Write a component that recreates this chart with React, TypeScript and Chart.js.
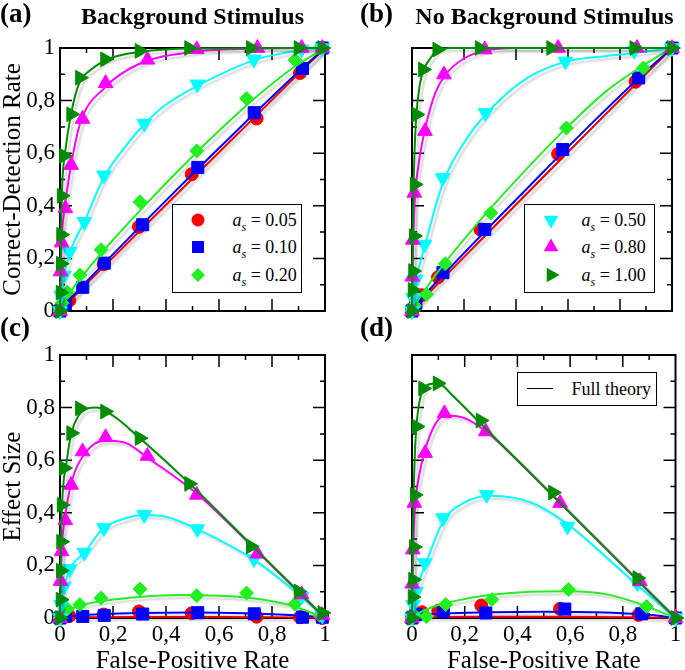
import React, { useEffect, useRef } from 'react';
import { Chart, registerables } from 'chart.js';
Chart.register(...registerables);

// ---------- tick labels ----------
const TICK_VALUES = [0, 0.2, 0.4, 0.6, 0.8, 1];
const TICK_LABELS = ['0', '0,2', '0,4', '0,6', '0,8', '1'];
const FRAME_TICKS = [0.1, 0.2, 0.3, 0.4, 0.5, 0.6, 0.7, 0.8, 0.9];

// ---------- colours ----------
const C_RED = '#ff0000';
const C_BLUE = '#0000ff';
const C_GREEN = '#22ee22';
const C_CYAN = '#00ffff';
const C_MAG = '#ff00ff';
const C_DG = '#008b00';

// ---------- panel (a): ROC, background stimulus (markers) ----------
const fprA_red = [0, 0.01, 0.035, 0.165, 0.298, 0.497, 0.742, 0.906, 0.99];
const tprA_red = [0, 0.015, 0.04, 0.178, 0.32, 0.52, 0.732, 0.905, 1.0];
const fprA_blue = [0, 0.02, 0.086, 0.167, 0.312, 0.52, 0.733, 0.915, 0.99];
const tprA_blue = [0, 0.027, 0.09, 0.182, 0.328, 0.546, 0.754, 0.922, 1.0];
const fprA_green = [0, 0.008, 0.028, 0.075, 0.155, 0.302, 0.516, 0.704, 0.887, 0.98];
const tprA_green = [0, 0.03, 0.071, 0.137, 0.233, 0.415, 0.609, 0.808, 0.954, 1.0];
const fprA_cyan = [0, 0.004, 0.015, 0.036, 0.092, 0.166, 0.318, 0.518, 0.732, 0.912, 0.99];
const tprA_cyan = [0, 0.06, 0.135, 0.225, 0.339, 0.516, 0.713, 0.862, 0.957, 0.995, 1.0];
const fprA_mag = [0, 0.002, 0.006, 0.02, 0.042, 0.085, 0.172, 0.33, 0.516, 0.745, 0.912, 0.99];
const tprA_mag = [0, 0.15, 0.26, 0.39, 0.555, 0.73, 0.866, 0.955, 0.995, 1, 1, 1];
const fprA_dg = [0, 0.002, 0.003, 0.004, 0.006, 0.015, 0.042, 0.075, 0.17, 0.3, 0.487, 0.72, 0.9, 0.99];
const tprA_dg = [0, 0.07, 0.18, 0.29, 0.438, 0.59, 0.748, 0.887, 0.957, 0.989, 1, 1, 1, 1];

// panel (a) theory curves
const thA_red_x = [0, 0.1, 0.3, 0.5, 0.7, 0.9, 1];
const thA_red_y = [0, 0.103, 0.304, 0.504, 0.703, 0.902, 1];
const thA_blue_x = [0, 0.05, 0.15, 0.3, 0.5, 0.7, 0.9, 1];
const thA_blue_y = [0, 0.058, 0.164, 0.319, 0.521, 0.718, 0.91, 1];
const thA_green_x = [0, 0.02, 0.05, 0.1, 0.2, 0.3, 0.45, 0.6, 0.75, 0.88, 1];
const thA_green_y = [0, 0.042, 0.088, 0.153, 0.27, 0.38, 0.537, 0.685, 0.822, 0.925, 1];
const thA_cyan_x = [0, 0.005, 0.015, 0.038, 0.092, 0.164, 0.25, 0.32, 0.4, 0.516, 0.736, 0.9, 1];
const thA_cyan_y = [0, 0.06, 0.13, 0.225, 0.34, 0.505, 0.63, 0.712, 0.785, 0.855, 0.955, 0.99, 1];
const thA_mag_x = [0, 0.002, 0.006, 0.019, 0.042, 0.075, 0.17, 0.3, 0.5, 0.75, 1];
const thA_mag_y = [0, 0.1, 0.26, 0.4, 0.555, 0.71, 0.85, 0.94, 0.985, 0.998, 1];
const thA_dg_x = [0, 0.002, 0.004, 0.008, 0.019, 0.042, 0.07, 0.12, 0.2, 0.3, 0.5, 1];
const thA_dg_y = [0, 0.12, 0.3, 0.47, 0.6, 0.75, 0.86, 0.92, 0.965, 0.985, 0.998, 1];

// ---------- panel (c): effect size, background stimulus (markers, x = fprA_*) ----------
const effC_red = [0, 0.005, 0.008, 0.013, 0.025, 0.018, 0.005, 0.003, 0.0];
const effC_blue = [0, 0.007, 0.006, 0.01, 0.015, 0.02, 0.016, 0.003, 0.003];
const effC_green = [0, 0.02, 0.034, 0.051, 0.076, 0.11, 0.085, 0.095, 0.053, 0.01];
const effC_cyan = [0, 0.05, 0.12, 0.186, 0.249, 0.342, 0.392, 0.338, 0.224, 0.082, 0.01];
const effC_mag = [0, 0.14, 0.253, 0.371, 0.506, 0.633, 0.687, 0.616, 0.468, 0.244, 0.089, 0.01];
const effC_dg = [0, 0.07, 0.18, 0.29, 0.43, 0.57, 0.703, 0.797, 0.785, 0.684, 0.51, 0.272, 0.101, 0.019];

// panel (c) theory curves
const thC_red_x = [0, 0.1, 0.3, 0.5, 0.7, 0.9, 1];
const thC_red_y = [0, 0.003, 0.004, 0.004, 0.003, 0.002, 0];
const thC_blue_x = [0, 0.05, 0.15, 0.3, 0.5, 0.7, 0.9, 1];
const thC_blue_y = [0, 0.008, 0.014, 0.019, 0.021, 0.018, 0.01, 0];
const thC_green_x = [0, 0.02, 0.05, 0.1, 0.2, 0.3, 0.45, 0.6, 0.75, 0.88, 1];
const thC_green_y = [0, 0.022, 0.038, 0.053, 0.07, 0.08, 0.087, 0.085, 0.072, 0.045, 0];
const thC_cyan_x = [0, 0.005, 0.015, 0.038, 0.092, 0.164, 0.25, 0.32, 0.4, 0.516, 0.736, 0.9, 1];
const thC_cyan_y = [0, 0.055, 0.115, 0.187, 0.248, 0.341, 0.38, 0.392, 0.385, 0.339, 0.219, 0.09, 0];
const thC_mag_x = [0, 0.002, 0.006, 0.019, 0.042, 0.09, 0.17, 0.25, 0.33, 0.52, 0.75, 0.9, 1];
const thC_mag_y = [0, 0.1, 0.25, 0.38, 0.51, 0.62, 0.675, 0.665, 0.61, 0.47, 0.248, 0.1, 0];
const thC_dg_x = [0, 0.002, 0.005, 0.012, 0.023, 0.042, 0.07, 0.1, 0.14, 0.2, 0.3, 0.49, 0.72, 0.9, 1];
const thC_dg_y = [0, 0.15, 0.35, 0.5, 0.58, 0.7, 0.77, 0.795, 0.8, 0.77, 0.685, 0.51, 0.28, 0.1, 0];

// ---------- panel (b): ROC, no background stimulus (markers) ----------
const fprB_red = [0, 0.01, 0.038, 0.1, 0.263, 0.562, 0.86, 1.0];
const tprB_red = [0, 0.018, 0.06, 0.128, 0.31, 0.597, 0.872, 1.0];
const fprB_blue = [0, 0.015, 0.119, 0.28, 0.58, 0.872, 1.0];
const tprB_blue = [0, 0.03, 0.146, 0.31, 0.614, 0.886, 1.0];
const fprB_green = [0, 0.01, 0.055, 0.128, 0.303, 0.594, 0.89, 1.0];
const tprB_green = [0, 0.02, 0.063, 0.18, 0.373, 0.696, 0.924, 1.0];
const fprB_cyan = [0, 0.004, 0.015, 0.048, 0.118, 0.283, 0.59, 0.855, 1.0];
const tprB_cyan = [0, 0.05, 0.12, 0.253, 0.506, 0.753, 0.949, 0.99, 1.0];
const fprB_mag = [0, 0.001, 0.003, 0.009, 0.05, 0.123, 0.28, 0.562, 0.865, 1.0];
const tprB_mag = [0, 0.13, 0.27, 0.449, 0.684, 0.899, 0.994, 1.0, 1.0, 1.0];
const fprB_dg = [0, 0.002, 0.004, 0.007, 0.01, 0.017, 0.042, 0.097, 0.26, 0.535, 0.855, 1.0];
const tprB_dg = [0, 0.08, 0.152, 0.285, 0.481, 0.747, 0.918, 0.994, 1, 1, 1, 1];

// panel (b) theory curves
const thB_red_x = [0, 0.1, 0.3, 0.5, 0.7, 0.9, 1];
const thB_red_y = [0, 0.104, 0.305, 0.505, 0.704, 0.902, 1];
const thB_blue_x = [0, 0.05, 0.15, 0.3, 0.5, 0.7, 0.9, 1];
const thB_blue_y = [0, 0.062, 0.168, 0.322, 0.524, 0.722, 0.912, 1];
const thB_green_x = [0, 0.02, 0.06, 0.12, 0.2, 0.3, 0.45, 0.6, 0.75, 0.88, 1];
const thB_green_y = [0, 0.035, 0.095, 0.175, 0.272, 0.388, 0.55, 0.702, 0.838, 0.928, 1];
const thB_cyan_x = [0, 0.005, 0.015, 0.05, 0.12, 0.2, 0.3, 0.45, 0.6, 0.75, 0.85, 1];
const thB_cyan_y = [0, 0.055, 0.115, 0.25, 0.49, 0.64, 0.765, 0.89, 0.95, 0.97, 0.98, 1];
const thB_mag_x = [0, 0.002, 0.005, 0.01, 0.025, 0.05, 0.09, 0.13, 0.2, 0.28, 0.4, 0.56, 0.75, 0.86, 1];
const thB_mag_y = [0, 0.122, 0.265, 0.41, 0.555, 0.69, 0.83, 0.9, 0.96, 0.99, 1, 1, 1, 1, 1];
const thB_dg_x = [0, 0.002, 0.005, 0.01, 0.016, 0.03, 0.044, 0.07, 0.1, 0.15, 0.258, 0.4, 0.535, 0.7, 0.853, 1];
const thB_dg_y = [0, 0.202, 0.425, 0.61, 0.736, 0.86, 0.914, 0.96, 0.993, 1, 1, 1, 1, 1, 1, 1];

// ---------- panel (d): effect size, no background stimulus (markers, x = fprB_*) ----------
const effD_red = [0, 0.008, 0.022, 0.028, 0.047, 0.035, 0.012, 0];
const effD_blue = [0, 0.013, 0.025, 0.019, 0.034, 0.016, 0];
const effD_green = [0, 0.01, 0.005, 0.051, 0.07, 0.108, 0.044, 0];
const effD_cyan = [0, 0.05, 0.1, 0.209, 0.38, 0.468, 0.348, 0.133, 0];
const effD_mag = [0, 0.13, 0.26, 0.437, 0.627, 0.778, 0.709, 0.437, 0.139, 0];
const effD_dg = [0, 0.08, 0.146, 0.27, 0.468, 0.728, 0.873, 0.892, 0.751, 0.477, 0.152, 0];

// panel (d) theory curves
const thD_red_x = [0, 0.1, 0.3, 0.5, 0.7, 0.9, 1];
const thD_red_y = [0, 0.004, 0.005, 0.005, 0.004, 0.002, 0];
const thD_blue_x = [0, 0.05, 0.15, 0.3, 0.5, 0.7, 0.9, 1];
const thD_blue_y = [0, 0.012, 0.018, 0.022, 0.024, 0.022, 0.012, 0];
const thD_green_x = [0, 0.02, 0.06, 0.12, 0.2, 0.3, 0.45, 0.6, 0.75, 0.88, 1];
const thD_green_y = [0, 0.015, 0.035, 0.055, 0.072, 0.088, 0.1, 0.102, 0.088, 0.048, 0];
const thD_cyan_x = [0, 0.005, 0.015, 0.05, 0.12, 0.2, 0.3, 0.45, 0.6, 0.75, 0.85, 1];
const thD_cyan_y = [0, 0.05, 0.1, 0.2, 0.37, 0.44, 0.465, 0.44, 0.35, 0.22, 0.13, 0];
const thD_mag_x = [0, 0.002, 0.005, 0.01, 0.025, 0.05, 0.09, 0.13, 0.2, 0.28, 0.4, 0.56, 0.75, 0.86, 1];
const thD_mag_y = [0, 0.12, 0.26, 0.4, 0.53, 0.64, 0.74, 0.77, 0.76, 0.71, 0.6, 0.44, 0.25, 0.14, 0];
const thD_dg_x = [0, 0.002, 0.005, 0.01, 0.016, 0.03, 0.044, 0.07, 0.1, 0.15, 0.258, 0.4, 0.535, 0.7, 0.853, 1];
const thD_dg_y = [0, 0.2, 0.42, 0.6, 0.72, 0.83, 0.87, 0.89, 0.893, 0.85, 0.742, 0.6, 0.465, 0.3, 0.147, 0];

// ---------- legend entries ----------
const LEGEND_LEFT = ['0.05', '0.10', '0.20'];
const LEGEND_RIGHT = ['0.50', '0.80', '1.00'];

// ---------- marker styles ----------
const MK = {
  red: { color: C_RED, style: 'circle', rot: 0, r: 6.5 },
  blue: { color: C_BLUE, style: 'rect', rot: 0, r: 8.5 },
  green: { color: C_GREEN, style: 'rectRot', rot: 0, r: 7 },
  cyan: { color: C_CYAN, style: 'triangle', rot: 180, r: 8.5 },
  mag: { color: C_MAG, style: 'triangle', rot: 0, r: 8.5 },
  dg: { color: C_DG, style: 'triangle', rot: 90, r: 8.5 },
};

const pts = (xs: number[], ys: number[]) => xs.map((x, i) => ({ x, y: ys[i] }));

type S = { mk: any; mx: number[]; my: number[]; cx: number[]; cy: number[] };

function buildDatasets(series: S[]) {
  const ds: any[] = [];
  series.forEach((s) => {
    ds.push({
      data: pts(s.cx, s.cy),
      isCurve: true,
      showLine: true,
      borderColor: s.mk.color,
      borderWidth: 2,
      pointRadius: 0,
      cubicInterpolationMode: 'monotone',
      fill: false,
      clip: false,
    });
    ds.push({
      data: pts(s.mx, s.my),
      showLine: false,
      pointStyle: s.mk.style,
      pointRotation: s.mk.rot,
      pointRadius: s.mk.r,
      pointBackgroundColor: s.mk.color,
      pointBorderColor: s.mk.color,
      pointBorderWidth: 1,
      clip: false,
    });
  });
  return ds.reverse(); // first dataset drawn on top in Chart.js
}

const framePlugin = {
  id: 'frame',
  beforeDatasetsDraw(chart: any) {
    const { ctx, chartArea } = chart;
    const { left, right, top, bottom } = chartArea;
    const xs = chart.scales.x;
    const ys = chart.scales.y;
    ctx.save();
    ctx.strokeStyle = '#000';
    ctx.lineWidth = 1.5;
    FRAME_TICKS.forEach((v, i) => {
      const len = i % 2 === 1 ? 12 : 5;
      const px = xs.getPixelForValue(v);
      const py = ys.getPixelForValue(v);
      ctx.beginPath();
      ctx.moveTo(px, bottom);
      ctx.lineTo(px, bottom - len);
      ctx.moveTo(px, top);
      ctx.lineTo(px, top + len);
      ctx.moveTo(left, py);
      ctx.lineTo(left + len, py);
      ctx.moveTo(right, py);
      ctx.lineTo(right - len, py);
      ctx.stroke();
    });
    ctx.lineWidth = 2;
    ctx.strokeRect(left, top, right - left, bottom - top);
    ctx.restore();
  },
};

const shadowPlugin = {
  id: 'lineShadow',
  beforeDatasetDraw(chart: any, args: any) {
    const ds = chart.data.datasets[args.index];
    if (ds && ds.isCurve) {
      const c = chart.ctx;
      c.save();
      c.shadowColor = 'rgba(0,0,0,0.18)';
      c.shadowOffsetX = 3;
      c.shadowOffsetY = 3;
      c.shadowBlur = 2;
    }
  },
  afterDatasetDraw(chart: any, args: any) {
    const ds = chart.data.datasets[args.index];
    if (ds && ds.isCurve) chart.ctx.restore();
  },
};

const FONT = '"Liberation Serif", "Times New Roman", serif';

type PanelProps = {
  left: number;
  top: number;
  width: number;
  height: number;
  area: { l: number; t: number; r: number; b: number };
  series: S[];
  xLabels: boolean;
  yLabels: boolean;
  xTitle?: string;
  yTitle?: string;
};

function Panel(p: PanelProps) {
  const ref = useRef<HTMLCanvasElement | null>(null);
  useEffect(() => {
    if (!ref.current) return;
    const tickFont = { family: FONT, size: 23 };
    const titleFont = { family: FONT, size: 25, lineHeight: 1 };
    const labelCb = (_v: any, i: number) => TICK_LABELS[i];
    const chart = new Chart(ref.current, {
      type: 'line',
      data: { datasets: buildDatasets(p.series) },
      options: {
        animation: false,
        responsive: false,
        events: [],
        layout: { padding: { left: 0, top: p.area.t, right: p.width - p.area.r, bottom: 0 } },
        plugins: { legend: { display: false }, tooltip: { enabled: false } },
        scales: {
          x: {
            type: 'linear',
            min: 0,
            max: 1,
            afterBuildTicks: (s: any) => {
              s.ticks = TICK_VALUES.map((v) => ({ value: v }));
            },
            grid: { display: false, drawTicks: false },
            border: { display: false },
            ticks: { display: p.xLabels, font: tickFont, color: '#000', padding: 3, callback: labelCb, maxRotation: 0, autoSkip: false },
            title: { display: !!p.xTitle, text: p.xTitle || '', font: titleFont, color: '#000', padding: { top: 0, bottom: 6 } },
            afterFit: (s: any) => {
              s.height = p.height - p.area.b;
            },
          },
          y: {
            type: 'linear',
            min: 0,
            max: 1,
            afterBuildTicks: (s: any) => {
              s.ticks = TICK_VALUES.map((v) => ({ value: v }));
            },
            grid: { display: false, drawTicks: false },
            border: { display: false },
            ticks: { display: p.yLabels, font: tickFont, color: '#000', padding: 5, callback: labelCb, autoSkip: false },
            title: { display: !!p.yTitle, text: p.yTitle || '', font: titleFont, color: '#000', padding: { top: 1, bottom: 0 } },
            afterFit: (s: any) => {
              s.width = p.area.l;
            },
          },
        },
      } as any,
      plugins: [framePlugin, shadowPlugin],
    });
    return () => chart.destroy();
  }, []);
  return (
    <canvas
      ref={ref}
      width={p.width}
      height={p.height}
      style={{ position: 'absolute', left: p.left, top: p.top, width: p.width, height: p.height }}
    />
  );
}

function Marker({ mk, size = 22 }: { mk: any; size?: number }) {
  const c = size / 2;
  const r = mk.r;
  let shape: any = null;
  if (mk.style === 'circle') shape = <circle cx={c} cy={c} r={r} fill={mk.color} />;
  else if (mk.style === 'rect') {
    const h = r * Math.SQRT1_2;
    shape = <rect x={c - h} y={c - h} width={2 * h} height={2 * h} fill={mk.color} />;
  } else if (mk.style === 'rectRot') {
    shape = <polygon points={`${c - r},${c} ${c},${c - r} ${c + r},${c} ${c},${c + r}`} fill={mk.color} />;
  } else {
    const a0 = (mk.rot * Math.PI) / 180;
    const ptsS = [0, 1, 2]
      .map((k) => {
        const a = a0 + (k * 2 * Math.PI) / 3;
        return `${c + Math.sin(a) * r},${c - Math.cos(a) * r}`;
      })
      .join(' ');
    shape = <polygon points={ptsS} fill={mk.color} />;
  }
  return (
    <svg width={size} height={size} style={{ position: 'absolute', left: -c, top: -c, overflow: 'visible' }}>
      {shape}
    </svg>
  );
}

function AsLabel({ v }: { v: string }) {
  return (
    <span>
      <i>a</i>
      <span style={{ fontSize: 12, position: 'relative', top: 5 }}>
        <i>s</i>
      </span>{' '}
      = {v}
    </span>
  );
}

function LegendBox({ left, top, width, height, items, markerX, textX, rows }: any) {
  return (
    <div
      style={{
        position: 'absolute',
        left,
        top,
        width,
        height,
        boxSizing: 'border-box',
        border: '1.5px solid #000',
        background: '#fff',
      }}
    >
      {items.map((it: any, i: number) => (
        <React.Fragment key={i}>
          <div style={{ position: 'absolute', left: markerX - 1.5, top: rows[i] - 1.5, width: 0, height: 0 }}>
            <Marker mk={it.mk} />
          </div>
          <div
            style={{
              position: 'absolute',
              left: textX - 1.5,
              top: rows[i] - 1.5 - 12,
              height: 24,
              lineHeight: '24px',
              fontSize: 18,
              whiteSpace: 'nowrap',
            }}
          >
            <AsLabel v={it.v} />
          </div>
        </React.Fragment>
      ))}
    </div>
  );
}

export default function App() {
  const seriesA: S[] = [
    { mk: MK.red, mx: fprA_red, my: tprA_red, cx: thA_red_x, cy: thA_red_y },
    { mk: MK.blue, mx: fprA_blue, my: tprA_blue, cx: thA_blue_x, cy: thA_blue_y },
    { mk: MK.green, mx: fprA_green, my: tprA_green, cx: thA_green_x, cy: thA_green_y },
    { mk: MK.cyan, mx: fprA_cyan, my: tprA_cyan, cx: thA_cyan_x, cy: thA_cyan_y },
    { mk: MK.mag, mx: fprA_mag, my: tprA_mag, cx: thA_mag_x, cy: thA_mag_y },
    { mk: MK.dg, mx: fprA_dg, my: tprA_dg, cx: thA_dg_x, cy: thA_dg_y },
  ];
  const seriesC: S[] = [
    { mk: MK.red, mx: fprA_red, my: effC_red, cx: thC_red_x, cy: thC_red_y },
    { mk: MK.blue, mx: fprA_blue, my: effC_blue, cx: thC_blue_x, cy: thC_blue_y },
    { mk: MK.green, mx: fprA_green, my: effC_green, cx: thC_green_x, cy: thC_green_y },
    { mk: MK.cyan, mx: fprA_cyan, my: effC_cyan, cx: thC_cyan_x, cy: thC_cyan_y },
    { mk: MK.mag, mx: fprA_mag, my: effC_mag, cx: thC_mag_x, cy: thC_mag_y },
    { mk: MK.dg, mx: fprA_dg, my: effC_dg, cx: thC_dg_x, cy: thC_dg_y },
  ];
  const seriesB: S[] = [
    { mk: MK.red, mx: fprB_red, my: tprB_red, cx: thB_red_x, cy: thB_red_y },
    { mk: MK.blue, mx: fprB_blue, my: tprB_blue, cx: thB_blue_x, cy: thB_blue_y },
    { mk: MK.green, mx: fprB_green, my: tprB_green, cx: thB_green_x, cy: thB_green_y },
    { mk: MK.cyan, mx: fprB_cyan, my: tprB_cyan, cx: thB_cyan_x, cy: thB_cyan_y },
    { mk: MK.mag, mx: fprB_mag, my: tprB_mag, cx: thB_mag_x, cy: thB_mag_y },
    { mk: MK.dg, mx: fprB_dg, my: tprB_dg, cx: thB_dg_x, cy: thB_dg_y },
  ];
  const seriesD: S[] = [
    { mk: MK.red, mx: fprB_red, my: effD_red, cx: thD_red_x, cy: thD_red_y },
    { mk: MK.blue, mx: fprB_blue, my: effD_blue, cx: thD_blue_x, cy: thD_blue_y },
    { mk: MK.green, mx: fprB_green, my: effD_green, cx: thD_green_x, cy: thD_green_y },
    { mk: MK.cyan, mx: fprB_cyan, my: effD_cyan, cx: thD_cyan_x, cy: thD_cyan_y },
    { mk: MK.mag, mx: fprB_mag, my: effD_mag, cx: thD_mag_x, cy: thD_mag_y },
    { mk: MK.dg, mx: fprB_dg, my: effD_dg, cx: thD_dg_x, cy: thD_dg_y },
  ];

  const panelLabel = { position: 'absolute' as const, fontSize: 27, fontWeight: 700, lineHeight: '27px', whiteSpace: 'nowrap' as const };
  const titleStyle = { position: 'absolute' as const, fontSize: 24, fontWeight: 700, lineHeight: '24px', textAlign: 'center' as const, whiteSpace: 'nowrap' as const };

  return (
    <div
      style={{
        position: 'fixed',
        left: 0,
        top: 0,
        width: 685,
        height: 670,
        overflow: 'hidden',
        background: '#fff',
        fontFamily: FONT,
        color: '#000',
      }}
    >
      <Panel left={0} top={0} width={340} height={330} area={{ l: 60, t: 48, r: 325, b: 311 }} series={seriesA} xLabels={false} yLabels={true} yTitle="Correct-Detection Rate" />
      <Panel left={340} top={0} width={345} height={330} area={{ l: 72, t: 48, r: 332, b: 311 }} series={seriesB} xLabels={false} yLabels={false} />
      <Panel left={0} top={330} width={340} height={350} area={{ l: 60, t: 25, r: 325, b: 288 }} series={seriesC} xLabels={true} yLabels={true} yTitle="Effect Size" xTitle="False-Positive Rate" />
      <Panel left={340} top={330} width={345} height={350} area={{ l: 72, t: 25, r: 336, b: 288 }} series={seriesD} xLabels={true} yLabels={false} xTitle="False-Positive Rate" />

      <div style={{ ...panelLabel, left: 0, top: 0 }}>(a)</div>
      <div style={{ ...titleStyle, left: 60, top: 4, width: 265 }}>Background Stimulus</div>
      <div style={{ ...panelLabel, left: 360, top: 0 }}>(b)</div>
      <div style={{ ...titleStyle, left: 412, top: 4, width: 265 }}>No Background Stimulus</div>
      <div style={{ ...panelLabel, left: 0, top: 314 }}>(c)</div>
      <div style={{ ...panelLabel, left: 360, top: 314 }}>(d)</div>

      <LegendBox
        left={172}
        top={204}
        width={130}
        height={89}
        markerX={26}
        textX={61}
        rows={[16, 43, 71]}
        items={[
          { mk: MK.red, v: LEGEND_LEFT[0] },
          { mk: MK.blue, v: LEGEND_LEFT[1] },
          { mk: MK.green, v: LEGEND_LEFT[2] },
        ]}
      />
      <LegendBox
        left={524}
        top={204}
        width={131}
        height={89}
        markerX={27}
        textX={58}
        rows={[16, 43, 71]}
        items={[
          { mk: MK.cyan, v: LEGEND_RIGHT[0] },
          { mk: MK.mag, v: LEGEND_RIGHT[1] },
          { mk: MK.dg, v: LEGEND_RIGHT[2] },
        ]}
      />
      <div
        style={{
          position: 'absolute',
          left: 517,
          top: 372,
          width: 140,
          height: 34,
          boxSizing: 'border-box',
          border: '1.5px solid #000',
          background: '#fff',
        }}
      >
        <div style={{ position: 'absolute', left: 8.5, top: 15, width: 26, height: 0, borderTop: '1.5px solid #000' }} />
        <div style={{ position: 'absolute', left: 53.5, top: 3.5, lineHeight: '24px', fontSize: 18, whiteSpace: 'nowrap' }}>Full theory</div>
      </div>
    </div>
  );
}
